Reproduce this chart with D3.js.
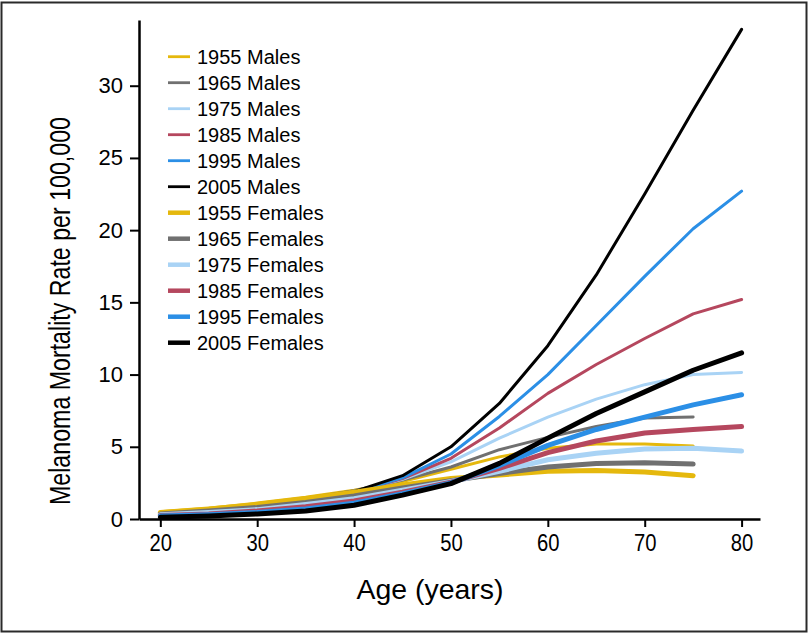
<!DOCTYPE html>
<html>
<head>
<meta charset="utf-8">
<script src="https://cdn.jsdelivr.net/npm/d3@7"></script>
<style>
  html, body { margin: 0; padding: 0; background: #fff; }
  svg { display: block; }
  text { font-family: "Liberation Sans", Arial, Helvetica, sans-serif; fill: #000; }
</style>
</head>
<body>
<svg id="chart" width="809" height="634"></svg>
<script>
// ---- data ----
const ages = [20, 25, 30, 35, 40, 45, 50, 55, 60, 65, 70, 75, 80];
const xTicks = [20, 30, 40, 50, 60, 70, 80];
const yTicks = [0, 5, 10, 15, 20, 25, 30];

const males1955 = [0.5, 0.75, 1.1, 1.5, 2.0, 2.6, 3.45, 4.3, 4.9, 5.2, 5.2, 5.05];
const males1965 = [0.4, 0.65, 0.95, 1.4, 1.95, 2.7, 3.6, 4.8, 5.65, 6.4, 7.0, 7.06];
const males1975 = [0.35, 0.55, 0.85, 1.3, 1.9, 2.75, 3.95, 5.6, 7.05, 8.3, 9.3, 10.0, 10.15];
const males1985 = [0.3, 0.5, 0.8, 1.2, 1.85, 2.8, 4.2, 6.3, 8.7, 10.7, 12.5, 14.2, 15.2];
const males1995 = [0.25, 0.45, 0.75, 1.15, 1.85, 2.85, 4.5, 7.1, 10.0, 13.4, 16.8, 20.1, 22.7];
const males2005 = [0.2, 0.4, 0.7, 1.1, 1.9, 3.0, 5.0, 8.0, 12.0, 16.9, 22.5, 28.3, 33.9];

const females1955 = [0.45, 0.7, 1.0, 1.4, 1.85, 2.35, 2.8, 3.05, 3.3, 3.35, 3.25, 3.0];
const females1965 = [0.35, 0.55, 0.8, 1.15, 1.6, 2.15, 2.65, 3.15, 3.6, 3.85, 3.9, 3.8];
const females1975 = [0.3, 0.45, 0.65, 1.0, 1.4, 2.0, 2.6, 3.3, 4.1, 4.55, 4.85, 4.9, 4.7];
const females1985 = [0.25, 0.35, 0.55, 0.85, 1.25, 1.85, 2.55, 3.5, 4.6, 5.4, 5.95, 6.2, 6.4];
const females1995 = [0.2, 0.3, 0.45, 0.7, 1.1, 1.75, 2.5, 3.7, 5.1, 6.2, 7.05, 7.9, 8.6];
const females2005 = [0.12, 0.2, 0.35, 0.55, 0.95, 1.65, 2.45, 3.85, 5.6, 7.3, 8.8, 10.3, 11.5];

const seriesNames = ["1955 Males", "1965 Males", "1975 Males", "1985 Males", "1995 Males", "2005 Males",
                     "1955 Females", "1965 Females", "1975 Females", "1985 Females", "1995 Females", "2005 Females"];
const seriesValues = [males1955, males1965, males1975, males1985, males1995, males2005,
                      females1955, females1965, females1975, females1985, females1995, females2005];
const colors = ["#e5b80d", "#707070", "#a9d3f5", "#b5475e", "#2b8fe6", "#000000",
                "#e5b80d", "#707070", "#a9d3f5", "#b5475e", "#2b8fe6", "#000000"];
const xTitle = "Age (years)";
const yTitle = "Melanoma Mortality Rate per 100,000";

// ---- chart ----
const svg = d3.select("#chart");

// frame
svg.append("rect")
  .attr("x", 1.5).attr("y", 2.5).attr("width", 805).attr("height", 629)
  .attr("fill", "none").attr("stroke", "#2a2a2a").attr("stroke-width", 2);

const x = d3.scaleLinear().domain([17.8, 81.9]).range([139, 760]);
const y = d3.scaleLinear().domain([0, 34.55]).range([519, 20]);

// lines
const line = d3.line()
  .x(d => x(d[0]))
  .y(d => y(d[1]))
  .curve(d3.curveLinear);

const series = seriesNames.map((name, i) => ({
  name,
  color: colors[i],
  female: i >= 6,
  points: seriesValues[i].map((v, j) => [ages[j], v])
}));

const g = svg.append("g");
g.selectAll("path.series")
  .data(series)
  .join("path")
  .attr("class", "series")
  .attr("fill", "none")
  .attr("stroke", d => d.color)
  .attr("stroke-width", d => d.female ? 5 : 3)
  .attr("stroke-linejoin", "round")
  .attr("stroke-linecap", "round")
  .attr("d", d => line(d.points));

// axes
const yAxis = d3.axisLeft(y).tickValues(yTicks).tickSize(9).tickSizeOuter(0).tickPadding(7);
const yG = svg.append("g").attr("transform", "translate(139,0)").call(yAxis);
yG.select(".domain").attr("stroke", "#000").attr("stroke-width", 2.5);
yG.selectAll(".tick line").attr("stroke", "#000").attr("stroke-width", 2);
yG.selectAll(".tick text").attr("font-size", 22).attr("font-family", "Liberation Sans, Arial, sans-serif").attr("fill", "#000");

const xAxis = d3.axisBottom(x).tickValues(xTicks).tickSize(8).tickSizeOuter(0).tickPadding(9);
const xG = svg.append("g").attr("transform", "translate(0,519)").call(xAxis);
xG.select(".domain").attr("stroke", "#000").attr("stroke-width", 2.5);
xG.selectAll(".tick line").attr("stroke", "#000").attr("stroke-width", 2);
xG.selectAll(".tick text").attr("font-size", 22).attr("font-family", "Liberation Sans, Arial, sans-serif").attr("fill", "#000")
  .attr("transform", "scale(0.92,1.05)")
  .attr("dy", "0.6em");

// axis titles
svg.append("text")
  .attr("x", 430).attr("y", 599)
  .attr("text-anchor", "middle")
  .attr("font-size", 28)
  .attr("textLength", 147)
  .attr("lengthAdjust", "spacingAndGlyphs")
  .text(xTitle);

svg.append("text")
  .attr("transform", "translate(70,311) rotate(-90)")
  .attr("text-anchor", "middle")
  .attr("font-size", 29)
  .attr("textLength", 388)
  .attr("lengthAdjust", "spacingAndGlyphs")
  .text(yTitle);

// legend
const legend = svg.append("g");
const leg = legend.selectAll("g.item")
  .data(series)
  .join("g")
  .attr("class", "item")
  .attr("transform", (d, i) => `translate(0,${56.7 + i * 26})`);
leg.append("line")
  .attr("x1", 168).attr("x2", 190)
  .attr("stroke", d => d.color)
  .attr("stroke-width", d => d.female ? 4.5 : 2.8);
leg.append("text")
  .attr("x", 197).attr("y", 0)
  .attr("dy", "0.36em")
  .attr("font-size", 20)
  .text(d => d.name);
</script>
</body>
</html>
